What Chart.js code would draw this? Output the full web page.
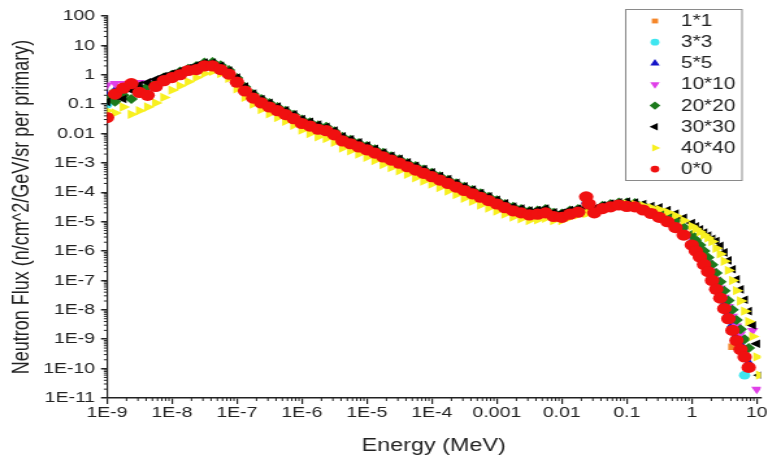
<!DOCTYPE html>
<html>
<head>
<meta charset="utf-8">
<script src="https://cdn.jsdelivr.net/npm/chart.js@4.4.1/dist/chart.umd.min.js"></script>
<style>
  html, body { margin: 0; padding: 0; background: #fff; }
  /* plot is drawn narrow and widened horizontally */
  #flux { display: block; width: 768px !important; height: 459px !important; }
</style>
</head>
<body>
<canvas id="flux" width="591" height="459" style="width:768px;height:459px"></canvas>
<script>
// energy grid, MeV (8 steps per decade, 16 above 1 MeV, extra point at the 24 keV line)
const energy = [
  1e-9, 1.33e-9, 1.78e-9, 2.37e-9, 3.16e-9, 4.22e-9, 5.62e-9, 7.5e-9,
  1e-8, 1.33e-8, 1.78e-8, 2.37e-8, 3.16e-8, 4.22e-8, 5.62e-8, 7.5e-8,
  1e-7, 1.33e-7, 1.78e-7, 2.37e-7, 3.16e-7, 4.22e-7, 5.62e-7, 7.5e-7,
  1e-6, 1.33e-6, 1.78e-6, 2.37e-6, 3.16e-6, 4.22e-6, 5.62e-6, 7.5e-6,
  1e-5, 1.33e-5, 1.78e-5, 2.37e-5, 3.16e-5, 4.22e-5, 5.62e-5, 7.5e-5,
  1e-4, 1.33e-4, 1.78e-4, 2.37e-4, 3.16e-4, 4.22e-4, 5.62e-4, 7.5e-4,
  1e-3, 1.33e-3, 1.78e-3, 2.37e-3, 3.16e-3, 4.22e-3, 5.62e-3, 7.5e-3,
  0.01, 0.0133, 0.0178, 0.0237, 0.026, 0.0316, 0.0422, 0.0562, 0.075,
  0.1, 0.133, 0.178, 0.237, 0.316, 0.422, 0.562, 0.75,
  1, 1.15, 1.33, 1.54, 1.78, 2.05, 2.37, 2.74, 3.16,
  3.65, 4.22, 4.87, 5.62, 6.49, 7.5, 8.66, 10, 11
];

// neutron flux per field size, n/cm^2/GeV/sr per primary
const flux1x1 = [
  0.15, 0.26, 0.33, 0.48, 0.27, 0.21, 0.4, 0.62,
  0.82, 1.02, 1.35, 1.55, 2.05, 2.05, 1.5, 1.05,
  0.57, 0.285, 0.165, 0.112, 0.082, 0.061, 0.045, 0.033,
  0.0225, 0.0185, 0.0143, 0.0128, 0.0092, 0.0057, 0.0046, 0.0036,
  2.88e-3, 2.2e-3, 1.64e-3, 1.28e-3, 1e-3, 7.6e-4, 5.8e-4, 4.5e-4,
  3.5e-4, 2.65e-4, 2.05e-4, 1.54e-4, 1.18e-4, 9.1e-5, 7e-5, 5.3e-5,
  4.1e-5, 3.1e-5, 2.4e-5, 2.05e-5, 1.75e-5, 1.85e-5, 2.05e-5, 1.55e-5,
  1.45e-5, 1.85e-5, 2.15e-5, 6.5e-5, 3.8e-5, 2.05e-5, 2.85e-5, 3.25e-5, 3.75e-5,
  3.4e-5, 3.25e-5, 2.55e-5, 1.95e-5, 1.45e-5, 1.02e-5, 6.5e-6, 3.6e-6,
  1.7e-6, 1.05e-6, 6.6e-7, 3.7e-7, 2.1e-7, 1.05e-7, 5.3e-8, 2.6e-8, 1.2e-8,
  5.5e-9, 5.5e-10, null, null, null, null, null, null, null
];
const flux3x3 = [
  0.1, 0.25, 0.38, 0.45, 0.28, 0.22, 0.38, 0.6,
  0.84, 1.05, 1.35, 1.6, 2.1, 2.1, 1.55, 1.05,
  0.59, 0.29, 0.17, 0.115, 0.084, 0.063, 0.046, 0.034,
  0.023, 0.019, 0.0147, 0.013, 0.0095, 0.0059, 0.0047, 0.0037,
  2.95e-3, 2.25e-3, 1.68e-3, 1.3e-3, 1.03e-3, 7.8e-4, 6e-4, 4.6e-4,
  3.6e-4, 2.7e-4, 2.1e-4, 1.58e-4, 1.2e-4, 9.3e-5, 7.1e-5, 5.5e-5,
  4.2e-5, 3.15e-5, 2.45e-5, 2.1e-5, 1.8e-5, 1.9e-5, 2.1e-5, 1.6e-5,
  1.5e-5, 1.9e-5, 2.2e-5, 6e-5, 3.5e-5, 2.1e-5, 2.9e-5, 3.3e-5, 3.8e-5,
  3.5e-5, 3.3e-5, 2.6e-5, 2e-5, 1.5e-5, 1.05e-5, 6.8e-6, 3.8e-6,
  1.8e-6, 1.15e-6, 7e-7, 4e-7, 2.3e-7, 1.2e-7, 6e-8, 3e-8, 1.3e-8,
  6e-9, 2.5e-9, 1.1e-9, 5e-10, 6e-11, null, null, null, null
];
const flux5x5 = [
  0.2, 0.3, 0.4, 0.5, 0.3, 0.25, 0.42, 0.68,
  0.88, 1.1, 1.45, 1.65, 2.2, 2.2, 1.6, 1.1,
  0.62, 0.31, 0.18, 0.12, 0.088, 0.066, 0.048, 0.035,
  0.024, 0.02, 0.0155, 0.0138, 0.0099, 0.0062, 0.005, 0.0039,
  3.1e-3, 2.4e-3, 1.75e-3, 1.38e-3, 1.08e-3, 8.1e-4, 6.3e-4, 4.8e-4,
  3.7e-4, 2.9e-4, 2.2e-4, 1.65e-4, 1.27e-4, 9.8e-5, 7.5e-5, 5.7e-5,
  4.4e-5, 3.3e-5, 2.6e-5, 2.2e-5, 1.9e-5, 2e-5, 2.2e-5, 1.65e-5,
  1.55e-5, 2e-5, 2.3e-5, 5e-5, 3e-5, 2.2e-5, 3.1e-5, 3.5e-5, 4e-5,
  3.7e-5, 3.5e-5, 2.8e-5, 2.1e-5, 1.6e-5, 1.15e-5, 7.3e-6, 4.2e-6,
  2e-6, 1.3e-6, 8e-7, 4.6e-7, 2.7e-7, 1.4e-7, 7e-8, 3.5e-8, 1.6e-8,
  7.5e-9, 3.2e-9, 1.4e-9, 7e-10, 3.5e-10, 1.6e-10, null, null, null
];
const flux10x10 = [
  0.45, 0.5, 0.5, 0.45, 0.55, 0.5, 0.55, 0.7,
  0.9, 1.15, 1.5, 1.8, 2.4, 2.4, 1.75, 1.2,
  0.66, 0.33, 0.19, 0.13, 0.095, 0.07, 0.052, 0.038,
  0.026, 0.021, 0.017, 0.015, 0.0107, 0.0067, 0.0054, 0.0042,
  3.3e-3, 2.6e-3, 1.9e-3, 1.5e-3, 1.17e-3, 8.8e-4, 6.8e-4, 5.2e-4,
  4e-4, 3.1e-4, 2.4e-4, 1.8e-4, 1.37e-4, 1.06e-4, 8.1e-5, 6.2e-5,
  4.8e-5, 3.6e-5, 2.8e-5, 2.4e-5, 2e-5, 2.1e-5, 2.4e-5, 1.8e-5,
  1.7e-5, 2.2e-5, 2.5e-5, 2.6e-5, 2.5e-5, 2.4e-5, 3.3e-5, 3.8e-5, 4.3e-5,
  4.1e-5, 3.9e-5, 3.1e-5, 2.4e-5, 1.8e-5, 1.3e-5, 8.5e-6, 5e-6,
  2.6e-6, 1.7e-6, 1.1e-6, 6.5e-7, 4e-7, 2.1e-7, 1.1e-7, 5.5e-8, 2.7e-8,
  1.3e-8, 6e-9, 2.8e-9, 1.5e-9, null, null, 2e-9, 2e-11, null
];
const flux20x20 = [
  0.15, 0.12, 0.2, 0.15, 0.35, 0.4, 0.55, 0.8,
  1.0, 1.3, 1.6, 2.0, 2.6, 2.7, 2.1, 1.45,
  0.78, 0.38, 0.22, 0.15, 0.11, 0.08, 0.06, 0.044,
  0.03, 0.024, 0.019, 0.017, 0.012, 0.0077, 0.0062, 0.0048,
  3.8e-3, 2.9e-3, 2.2e-3, 1.7e-3, 1.33e-3, 1e-3, 7.8e-4, 6e-4,
  4.6e-4, 3.5e-4, 2.7e-4, 2.05e-4, 1.55e-4, 1.2e-4, 9.2e-5, 7.1e-5,
  5.4e-5, 4e-5, 3.2e-5, 2.7e-5, 2.3e-5, 2.4e-5, 2.7e-5, 2e-5,
  1.9e-5, 2.4e-5, 2.7e-5, 2.9e-5, 2.7e-5, 2.7e-5, 3.5e-5, 4e-5, 4.5e-5,
  4.5e-5, 4.3e-5, 3.5e-5, 2.8e-5, 2.1e-5, 1.6e-5, 1.1e-5, 6.5e-6,
  3.5e-6, 2.4e-6, 1.6e-6, 1e-6, 6e-7, 3.4e-7, 1.8e-7, 9e-8, 4.5e-8,
  2.1e-8, 1e-8, 4.5e-9, 2.2e-9, 1e-9, 5e-10, null, null, null
];
const flux30x30 = [
  0.12, 0.2, 0.15, 0.3, 0.45, 0.55, 0.7, 0.9,
  1.1, 1.35, 1.7, 2.1, 2.6, 2.6, 2.0, 1.4,
  0.8, 0.4, 0.23, 0.15, 0.11, 0.083, 0.062, 0.045,
  0.031, 0.025, 0.02, 0.017, 0.0125, 0.008, 0.0064, 0.005,
  3.9e-3, 3e-3, 2.25e-3, 1.75e-3, 1.37e-3, 1.04e-3, 8e-4, 6.2e-4,
  4.8e-4, 3.6e-4, 2.8e-4, 2.1e-4, 1.6e-4, 1.25e-4, 9.5e-5, 7.3e-5,
  5.6e-5, 4.2e-5, 3.3e-5, 2.8e-5, 2.4e-5, 2.5e-5, 2.8e-5, 2.1e-5,
  2e-5, 2.5e-5, 2.8e-5, 3e-5, 2.8e-5, 2.8e-5, 3.6e-5, 4.1e-5, 4.6e-5,
  4.8e-5, 4.5e-5, 4e-5, 3.4e-5, 3.1e-5, 2.5e-5, 1.9e-5, 1.35e-5,
  9e-6, 7e-6, 5.5e-6, 4.3e-6, 3.4e-6, 2.6e-6, 2.2e-6, 1.5e-6, 9e-7,
  4.8e-7, 2.4e-7, 1.1e-7, 5e-8, 2.2e-8, 9e-9, 3e-9, 7e-10, 6e-11
];
const flux40x40 = [
  0.06, 0.05, 0.08, 0.045, 0.06, 0.08, 0.11, 0.17,
  0.3, 0.42, 0.58, 0.8, 1.1, 1.3, 1.1, 0.75,
  0.33, 0.17, 0.1, 0.065, 0.047, 0.035, 0.026, 0.019,
  0.013, 0.01, 0.0078, 0.0068, 0.005, 0.0032, 0.0026, 0.002,
  1.55e-3, 1.2e-3, 8.8e-4, 6.9e-4, 5.4e-4, 4.1e-4, 3.1e-4, 2.4e-4,
  1.9e-4, 1.45e-4, 1.1e-4, 8.3e-5, 6.3e-5, 4.9e-5, 3.7e-5, 2.9e-5,
  2.3e-5, 1.8e-5, 1.45e-5, 1.25e-5, 1.1e-5, 1.15e-5, 1.3e-5, 1.1e-5,
  1.1e-5, 1.4e-5, 1.7e-5, 1.9e-5, 2e-5, 2e-5, 2.5e-5, 3e-5, 3.6e-5,
  4e-5, 3.9e-5, 3.5e-5, 3e-5, 2.6e-5, 2.1e-5, 1.6e-5, 1.1e-5,
  7e-6, 5.6e-6, 4.5e-6, 3.5e-6, 2.8e-6, 2.1e-6, 1.25e-6, 8e-7, 4.5e-7,
  2.2e-7, 1e-7, 4.5e-8, 2e-8, 9e-9, 4e-9, 1.25e-9, 2.5e-10, 6e-11
];
const flux0x0 = [
  0.035, 0.22, 0.35, 0.5, 0.25, 0.2, 0.4, 0.63,
  0.8, 1.0, 1.4, 1.5, 2.0, 2.0, 1.5, 1.05,
  0.56, 0.28, 0.16, 0.11, 0.08, 0.06, 0.044, 0.032,
  0.022, 0.018, 0.014, 0.0125, 0.009, 0.0056, 0.0045, 0.0035,
  2.8e-3, 2.15e-3, 1.6e-3, 1.25e-3, 9.8e-4, 7.4e-4, 5.7e-4, 4.4e-4,
  3.4e-4, 2.6e-4, 2e-4, 1.5e-4, 1.15e-4, 8.9e-5, 6.8e-5, 5.2e-5,
  4e-5, 3e-5, 2.35e-5, 2e-5, 1.7e-5, 1.8e-5, 2e-5, 1.5e-5,
  1.4e-5, 1.8e-5, 2.1e-5, 7e-5, 4e-5, 2e-5, 2.8e-5, 3.2e-5, 3.7e-5,
  3.3e-5, 3.2e-5, 2.5e-5, 1.9e-5, 1.4e-5, 1e-5, 6.3e-6, 3.5e-6,
  1.6e-6, 1e-6, 6.3e-7, 3.5e-7, 2e-7, 1e-7, 5e-8, 2.5e-8, 1.1e-8,
  5e-9, 2e-9, 9e-10, 4.5e-10, 2.5e-10, 1.1e-10, null, null, null
];

const fieldLabels = ['1*1', '3*3', '5*5', '10*10', '20*20', '30*30', '40*40', '0*0'];

const xTickValues = [1e-9, 1e-8, 1e-7, 1e-6, 1e-5, 1e-4, 1e-3, 1e-2, 0.1, 1, 10];
const xTickLabels = ['1E-9', '1E-8', '1E-7', '1E-6', '1E-5', '1E-4', '0.001', '0.01', '0.1', '1', '10'];
const yTickValues = [1e-11, 1e-10, 1e-9, 1e-8, 1e-7, 1e-6, 1e-5, 1e-4, 1e-3, 0.01, 0.1, 1, 10, 100];
const yTickLabels = ['1E-11', '1E-10', '1E-9', '1E-8', '1E-7', '1E-6', '1E-5', '1E-4', '1E-3', '0.01', '0.1', '1', '10', '100'];

function points(values) {
  return energy.map((e, i) => ({ x: e, y: values[i] })).filter(p => p.y != null);
}

function series(label, values, color, style, rotation, radius, order) {
  return {
    label: label,
    data: points(values),
    backgroundColor: color,
    borderColor: color,
    borderWidth: 0,
    pointStyle: style,
    rotation: rotation,
    pointRadius: radius,
    pointHoverRadius: radius,
    order: order
  };
}

// lower order is painted later, so 0*0 ends up on top
const datasets = [
  series(fieldLabels[0], flux1x1, '#f5872a', 'rect', 0, 4.6, 7),
  series(fieldLabels[1], flux3x3, '#3fe6f0', 'circle', 0, 4.4, 6),
  series(fieldLabels[2], flux5x5, '#1414c8', 'triangle', 0, 5, 5),
  series(fieldLabels[3], flux10x10, '#e040e8', 'triangle', 180, 5, 4),
  series(fieldLabels[4], flux20x20, '#1c7a1c', 'rectRot', 0, 5, 3),
  series(fieldLabels[5], flux30x30, '#000000', 'triangle', 270, 5, 2),
  series(fieldLabels[6], flux40x40, '#f8f020', 'triangle', 90, 5.4, 1),
  series(fieldLabels[7], flux0x0, '#f01010', 'circle', 0, 5.6, 0)
];

// small log ticks between decades
const minorTicks = {
  id: 'minorTicks',
  afterDraw(chart) {
    const { ctx, scales: { x, y } } = chart;
    ctx.save();
    ctx.strokeStyle = '#222';
    ctx.lineWidth = 1;
    ctx.beginPath();
    for (let d = -9; d <= 1; d++) {
      for (let k = 2; k <= 9; k++) {
        const v = k * Math.pow(10, d);
        if (v > x.max) break;
        const px = x.getPixelForValue(v);
        ctx.moveTo(px, x.top);
        ctx.lineTo(px, x.top + 3);
      }
    }
    for (let d = -11; d < 2; d++) {
      for (let k = 2; k <= 9; k++) {
        const py = y.getPixelForValue(k * Math.pow(10, d));
        ctx.moveTo(y.right - 2.4, py);
        ctx.lineTo(y.right, py);
      }
    }
    ctx.stroke();
    ctx.restore();
  }
};

// boxed legend in the upper right corner
const boxLegend = {
  id: 'boxLegend',
  afterDraw(chart) {
    const ctx = chart.ctx;
    const left = 481.5, top = 9.5, w = 89.5, h = 171;
    ctx.save();
    ctx.fillStyle = '#fff';
    ctx.fillRect(left, top, w, h);
    ctx.strokeStyle = '#8a8a8a';
    ctx.lineWidth = 1;
    ctx.strokeRect(left, top, w, h);
    ctx.font = '16px "Liberation Sans", Arial, sans-serif';
    ctx.textBaseline = 'middle';
    chart.data.datasets.forEach((ds, i) => {
      const cy = 21 + i * 21.15;
      ctx.fillStyle = ds.backgroundColor;
      ctx.strokeStyle = ds.backgroundColor;
      Chart.helpers.drawPoint(ctx, {
        pointStyle: ds.pointStyle,
        rotation: ds.rotation,
        radius: ds.pointStyle === 'rect' || ds.pointStyle === 'circle' ? 3.4 : 4.2,
        borderWidth: 0
      }, 504, cy);
      ctx.fillStyle = '#222';
      ctx.fillText(ds.label, 524, cy + 0.5);
    });
    ctx.restore();
  }
};

const tickFont = { family: '"Liberation Sans", Arial, sans-serif', size: 15 };
const titleFont = { family: '"Liberation Sans", Arial, sans-serif', size: 18 };

new Chart(document.getElementById('flux'), {
  type: 'scatter',
  data: { datasets: datasets },
  plugins: [minorTicks, boxLegend],
  options: {
    responsive: false,
    animation: false,
    devicePixelRatio: 1,
    layout: { padding: { top: 16, right: 4, bottom: 0, left: 0 } },
    plugins: { legend: { display: false }, tooltip: { enabled: false } },
    scales: {
      x: {
        type: 'logarithmic',
        min: 1e-9,
        max: 11.5,
        afterBuildTicks: s => { s.ticks = xTickValues.map(v => ({ value: v })); },
        afterFit: s => { s.height = 61; s.paddingLeft = 0; s.paddingRight = 0; },
        ticks: {
          color: '#222',
          font: tickFont,
          padding: 0,
          maxRotation: 0,
          autoSkip: false,
          callback: v => xTickLabels[xTickValues.indexOf(v)]
        },
        grid: { drawOnChartArea: false, tickLength: 6, color: '#222', lineWidth: 1.2 },
        border: { display: true, color: '#222', width: 1.5 },
        title: { display: true, text: 'Energy (MeV)', color: '#222', font: titleFont, padding: { top: 0, bottom: 2 } }
      },
      y: {
        type: 'logarithmic',
        min: 1e-11,
        max: 100,
        afterBuildTicks: s => { s.ticks = yTickValues.map(v => ({ value: v })); },
        afterFit: s => { s.width = 82.3; s.paddingTop = 0; s.paddingBottom = 0; },
        ticks: {
          color: '#222',
          font: tickFont,
          padding: 4.5,
          autoSkip: false,
          callback: v => yTickLabels[yTickValues.indexOf(v)]
        },
        grid: { drawOnChartArea: false, tickLength: 4.6, color: '#222', lineWidth: 1.5 },
        border: { display: true, color: '#222', width: 1.2 },
        title: {
          display: true,
          text: 'Neutron Flux (n/cm^2/GeV/sr per primary)',
          color: '#222',
          font: titleFont,
          padding: { top: 6, bottom: 0 }
        }
      }
    }
  }
});
</script>
</body>
</html>
